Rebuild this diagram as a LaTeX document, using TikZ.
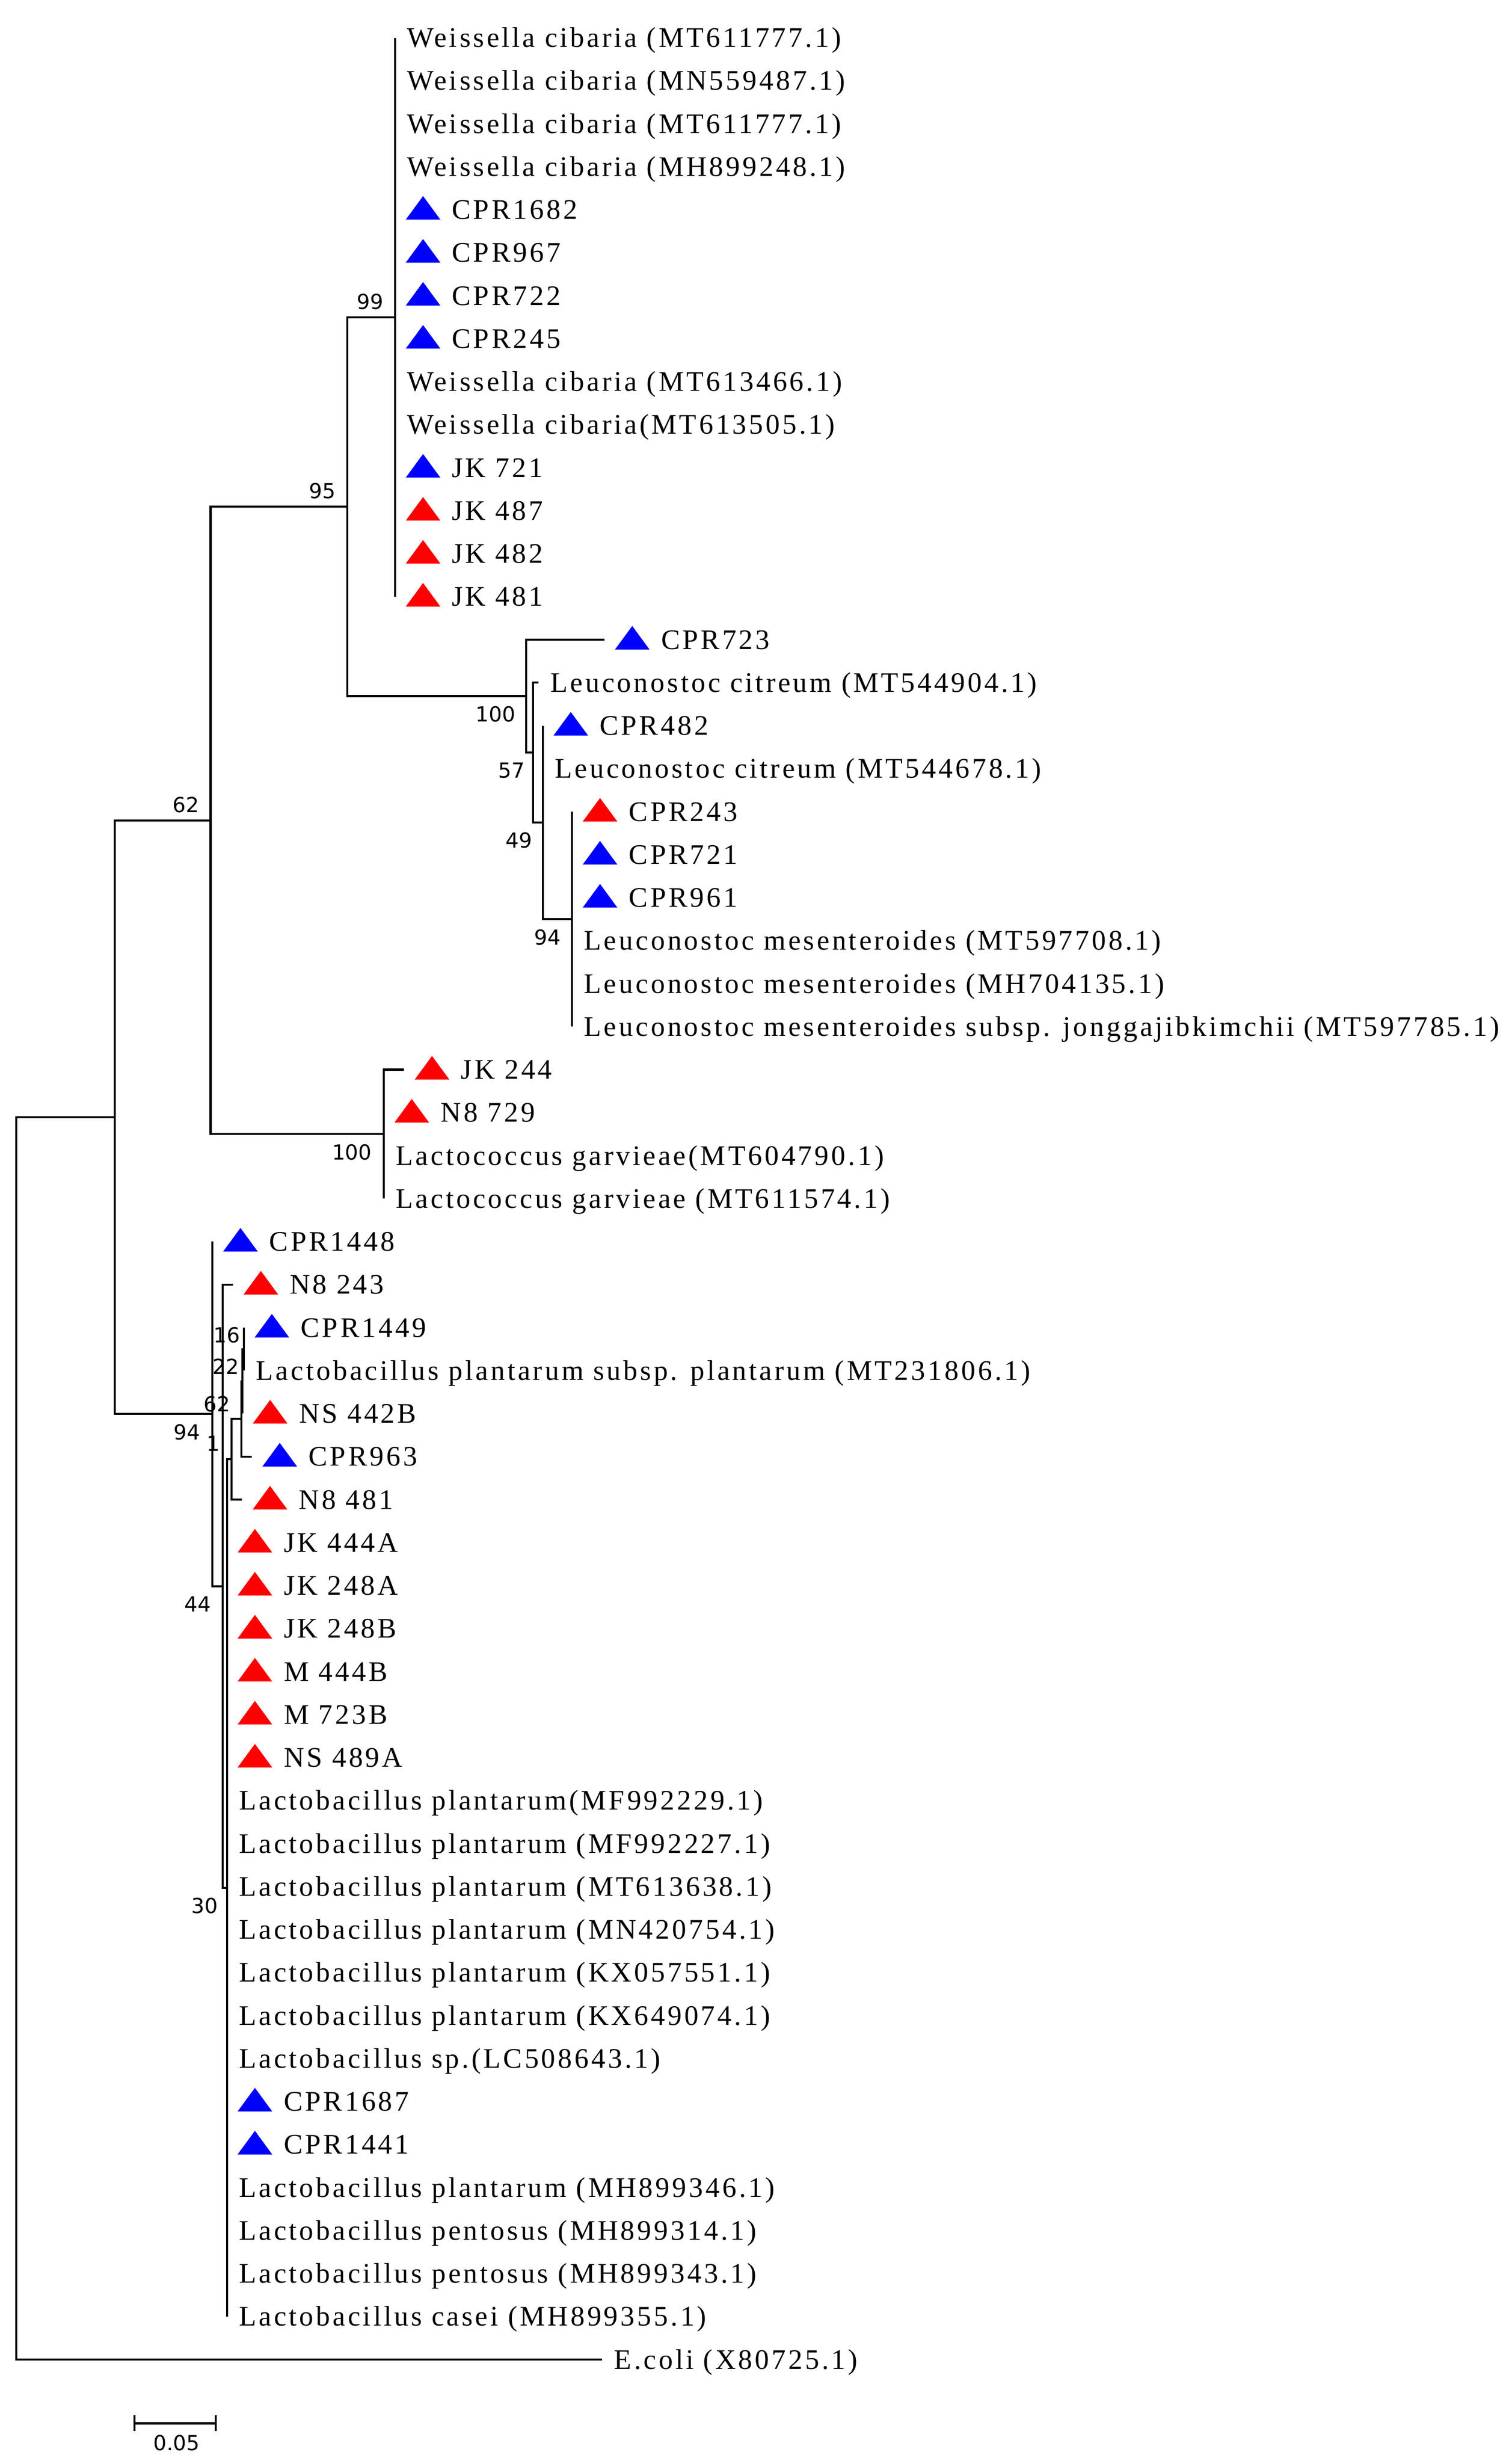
\documentclass[tikz,border=0pt]{standalone}
\usepackage{fontspec}
\setmainfont{Liberation Serif}[LetterSpace=9]
\newfontfamily\bootfont{DejaVu Sans}
\usetikzlibrary{calc}
\definecolor{isoblue}{RGB}{0,0,255}
\definecolor{isored}{RGB}{255,0,0}
% row position of a leaf
\newcommand{\rowy}[1]{(24+(#1-1)*27.35)}
% plain taxon label and isolate label with its triangle
\newcommand{\taxon}[3]{\node[taxon] (#1) at ($(#2)+(7.3,6)$) {#3};}
\newcommand{\isolate}[4]{%
  \fill[#3] ($(#2)+(6.8,6.3)$) -- ++(22,0) -- ++(-11,-15) -- cycle;
  \node[taxon] (#1) at ($(#2)+(35.8,6)$) {#4};}

\begin{document}
\begin{tikzpicture}[
x=0.5pt, y=-0.5pt,
taxon/.style={anchor=base west, inner sep=0pt, font=\fontsize{9}{10}\selectfont},
boot/.style={anchor=east, inner sep=0pt, font=\bootfont\fontsize{6.6}{7}\selectfont},
branch/.style={line width=0.65pt}
]
\useasboundingbox (0,0) rectangle (960,1567.4);
%Nodes
\coordinate (root) at (10.4,1105.8);
\coordinate (nA)   at (73,710.6);
\coordinate (nB)   at (134,521.9);
\coordinate (nC)   at (221,322.3);
\coordinate (nW)   at (251.4,201.8);
\coordinate (nL1)  at (334.9,442.8);
\coordinate (nL2)  at (339.2,478.7);
\coordinate (nL3)  at (345.4,523.1);
\coordinate (nL4)  at (364,584.7);
\coordinate (nLc)  at (244.2,721.4);
\coordinate (nLb)  at (135.2,899.4);
\coordinate (nP)   at (141.6,1009);
\coordinate (nQ)   at (144.4,1200.9);
\coordinate (nR)   at (147.4,928.3);
\coordinate (nS)   at (153.6,902.6);
\coordinate (nU)   at (154.1,878.7);
\coordinate (nT)   at (155.2,858.2);
%Leaves
\foreach \i in {1,...,14} \coordinate (l\i) at (251.4,{\rowy{\i}});
\coordinate (l15) at (384.5,{\rowy{15}});
\coordinate (l16) at (342.6,{\rowy{16}});
\foreach \i in {17,18} \coordinate (l\i) at (345.4,{\rowy{\i}});
\foreach \i in {19,...,24} \coordinate (l\i) at (364,{\rowy{\i}});
\coordinate (l25) at (257.1,{\rowy{25}});
\foreach \i in {26,27,28} \coordinate (l\i) at (244.2,{\rowy{\i}});
\coordinate (l29) at (135.2,{\rowy{29}});
\coordinate (l30) at (148.2,{\rowy{30}});
\foreach \i in {31,32} \coordinate (l\i) at (155.2,{\rowy{\i}});
\coordinate (l33) at (154.1,{\rowy{33}});
\coordinate (l34) at (160.2,{\rowy{34}});
\coordinate (l35) at (154,{\rowy{35}});
\foreach \i in {36,...,54} \coordinate (l\i) at (144.4,{\rowy{\i}});
\coordinate (l55) at (383.2,{\rowy{55}});
%Lines
\draw[branch] (root) |- (nA);
\draw[branch] (root) |- (l55);
\draw[branch] (nA) |- (nB);
\draw[branch] (nA) |- (nLb);
\draw[branch] (nB) |- (nC);
\draw[branch] (nB) |- (nLc);
\draw[branch] (nC) |- (nW);
\draw[branch] (nC) |- (nL1);
\foreach \i in {1,...,14} \draw[branch] (nW) |- (l\i);
\draw[branch] (nL1) |- (l15);
\draw[branch] (nL1) |- (nL2);
\draw[branch] (nL2) |- (l16);
\draw[branch] (nL2) |- (nL3);
\foreach \i in {17,18} \draw[branch] (nL3) |- (l\i);
\draw[branch] (nL3) |- (nL4);
\foreach \i in {19,...,24} \draw[branch] (nL4) |- (l\i);
\foreach \i in {25,...,28} \draw[branch] (nLc) |- (l\i);
\draw[branch] (nLb) |- (l29);
\draw[branch] (nLb) |- (nP);
\draw[branch] (nP) |- (l30);
\draw[branch] (nP) |- (nQ);
\draw[branch] (nQ) |- (nR);
\foreach \i in {36,...,54} \draw[branch] (nQ) |- (l\i);
\draw[branch] (nR) |- (nS);
\draw[branch] (nR) |- (l35);
\draw[branch] (nS) |- (nU);
\draw[branch] (nS) |- (l34);
\draw[branch] (nU) |- (nT);
\draw[branch] (nU) |- (l33);
\foreach \i in {31,32} \draw[branch] (nT) |- (l\i);
%Bootstrap values
\node[boot] (b99)  at ($(nW)+(-7,-10)$)    {99};
\node[boot] (b95)  at ($(nC)+(-7,-10)$)    {95};
\node[boot] (b62)  at ($(nB)+(-7,-10)$)    {62};
\node[boot] (b100l) at ($(nL1)+(-6.5,11.5)$) {100};
\node[boot] (b57)  at ($(nL2)+(-5,11.5)$)  {57};
\node[boot] (b49)  at ($(nL3)+(-6.5,11.5)$) {49};
\node[boot] (b94l) at ($(nL4)+(-6.7,11.5)$) {94};
\node[boot] (b100c) at ($(nLc)+(-7.3,11.5)$) {100};
\node[boot] (b94b) at ($(nLb)+(-7.5,11.5)$) {94};
\node[boot] (b44)  at ($(nP)+(-7,11.5)$)   {44};
\node[boot] (b30)  at ($(nQ)+(-5.5,11.5)$) {30};
\node[boot] (b1)   at ($(nR)+(-7,-10)$)    {1};
\node[boot] (b62s) at ($(nS)+(-6.7,-9.5)$) {62};
\node[boot] (b22)  at ($(nU)+(-1.5,-9.5)$) {22};
\node[boot] (b16)  at ($(nT)+(-2,-9)$)     {16};
%Taxa
\taxon{t1}{l1}{Weissella cibaria (MT611777.1)}
\taxon{t2}{l2}{Weissella cibaria (MN559487.1)}
\taxon{t3}{l3}{Weissella cibaria (MT611777.1)}
\taxon{t4}{l4}{Weissella cibaria (MH899248.1)}
\isolate{t5}{l5}{isoblue}{CPR1682}
\isolate{t6}{l6}{isoblue}{CPR967}
\isolate{t7}{l7}{isoblue}{CPR722}
\isolate{t8}{l8}{isoblue}{CPR245}
\taxon{t9}{l9}{Weissella cibaria (MT613466.1)}
\taxon{t10}{l10}{Weissella cibaria(MT613505.1)}
\isolate{t11}{l11}{isoblue}{JK 721}
\isolate{t12}{l12}{isored}{JK 487}
\isolate{t13}{l13}{isored}{JK 482}
\isolate{t14}{l14}{isored}{JK 481}
\isolate{t15}{l15}{isoblue}{CPR723}
\taxon{t16}{l16}{Leuconostoc citreum (MT544904.1)}
\isolate{t17}{l17}{isoblue}{CPR482}
\taxon{t18}{l18}{Leuconostoc citreum (MT544678.1)}
\isolate{t19}{l19}{isored}{CPR243}
\isolate{t20}{l20}{isoblue}{CPR721}
\isolate{t21}{l21}{isoblue}{CPR961}
\taxon{t22}{l22}{Leuconostoc mesenteroides (MT597708.1)}
\taxon{t23}{l23}{Leuconostoc mesenteroides (MH704135.1)}
\taxon{t24}{l24}{Leuconostoc mesenteroides subsp. jonggajibkimchii (MT597785.1)}
\isolate{t25}{l25}{isored}{JK 244}
\isolate{t26}{l26}{isored}{N8 729}
\taxon{t27}{l27}{Lactococcus garvieae(MT604790.1)}
\taxon{t28}{l28}{Lactococcus garvieae (MT611574.1)}
\isolate{t29}{l29}{isoblue}{CPR1448}
\isolate{t30}{l30}{isored}{N8 243}
\isolate{t31}{l31}{isoblue}{CPR1449}
\taxon{t32}{l32}{Lactobacillus plantarum subsp. plantarum (MT231806.1)}
\isolate{t33}{l33}{isored}{NS 442B}
\isolate{t34}{l34}{isoblue}{CPR963}
\isolate{t35}{l35}{isored}{N8 481}
\isolate{t36}{l36}{isored}{JK 444A}
\isolate{t37}{l37}{isored}{JK 248A}
\isolate{t38}{l38}{isored}{JK 248B}
\isolate{t39}{l39}{isored}{M 444B}
\isolate{t40}{l40}{isored}{M 723B}
\isolate{t41}{l41}{isored}{NS 489A}
\taxon{t42}{l42}{Lactobacillus plantarum(MF992229.1)}
\taxon{t43}{l43}{Lactobacillus plantarum (MF992227.1)}
\taxon{t44}{l44}{Lactobacillus plantarum (MT613638.1)}
\taxon{t45}{l45}{Lactobacillus plantarum (MN420754.1)}
\taxon{t46}{l46}{Lactobacillus plantarum (KX057551.1)}
\taxon{t47}{l47}{Lactobacillus plantarum (KX649074.1)}
\taxon{t48}{l48}{Lactobacillus sp.(LC508643.1)}
\isolate{t49}{l49}{isoblue}{CPR1687}
\isolate{t50}{l50}{isoblue}{CPR1441}
\taxon{t51}{l51}{Lactobacillus plantarum (MH899346.1)}
\taxon{t52}{l52}{Lactobacillus pentosus (MH899314.1)}
\taxon{t53}{l53}{Lactobacillus pentosus (MH899343.1)}
\taxon{t54}{l54}{Lactobacillus casei (MH899355.1)}
\taxon{t55}{l55}{E.coli (X80725.1)}
%Scale bar
\coordinate (sbl) at (85.6,1541.5);
\coordinate (sbr) at (137.2,1541.5);
\draw[branch] (sbl) -- (sbr);
\draw[branch] ($(sbl)+(0,-5)$) -- ($(sbl)+(0,5)$);
\draw[branch] ($(sbr)+(0,-5)$) -- ($(sbr)+(0,5)$);
\node[boot, anchor=center] (sbt) at (112.4,1554) {0.05};
\end{tikzpicture}
\end{document}
